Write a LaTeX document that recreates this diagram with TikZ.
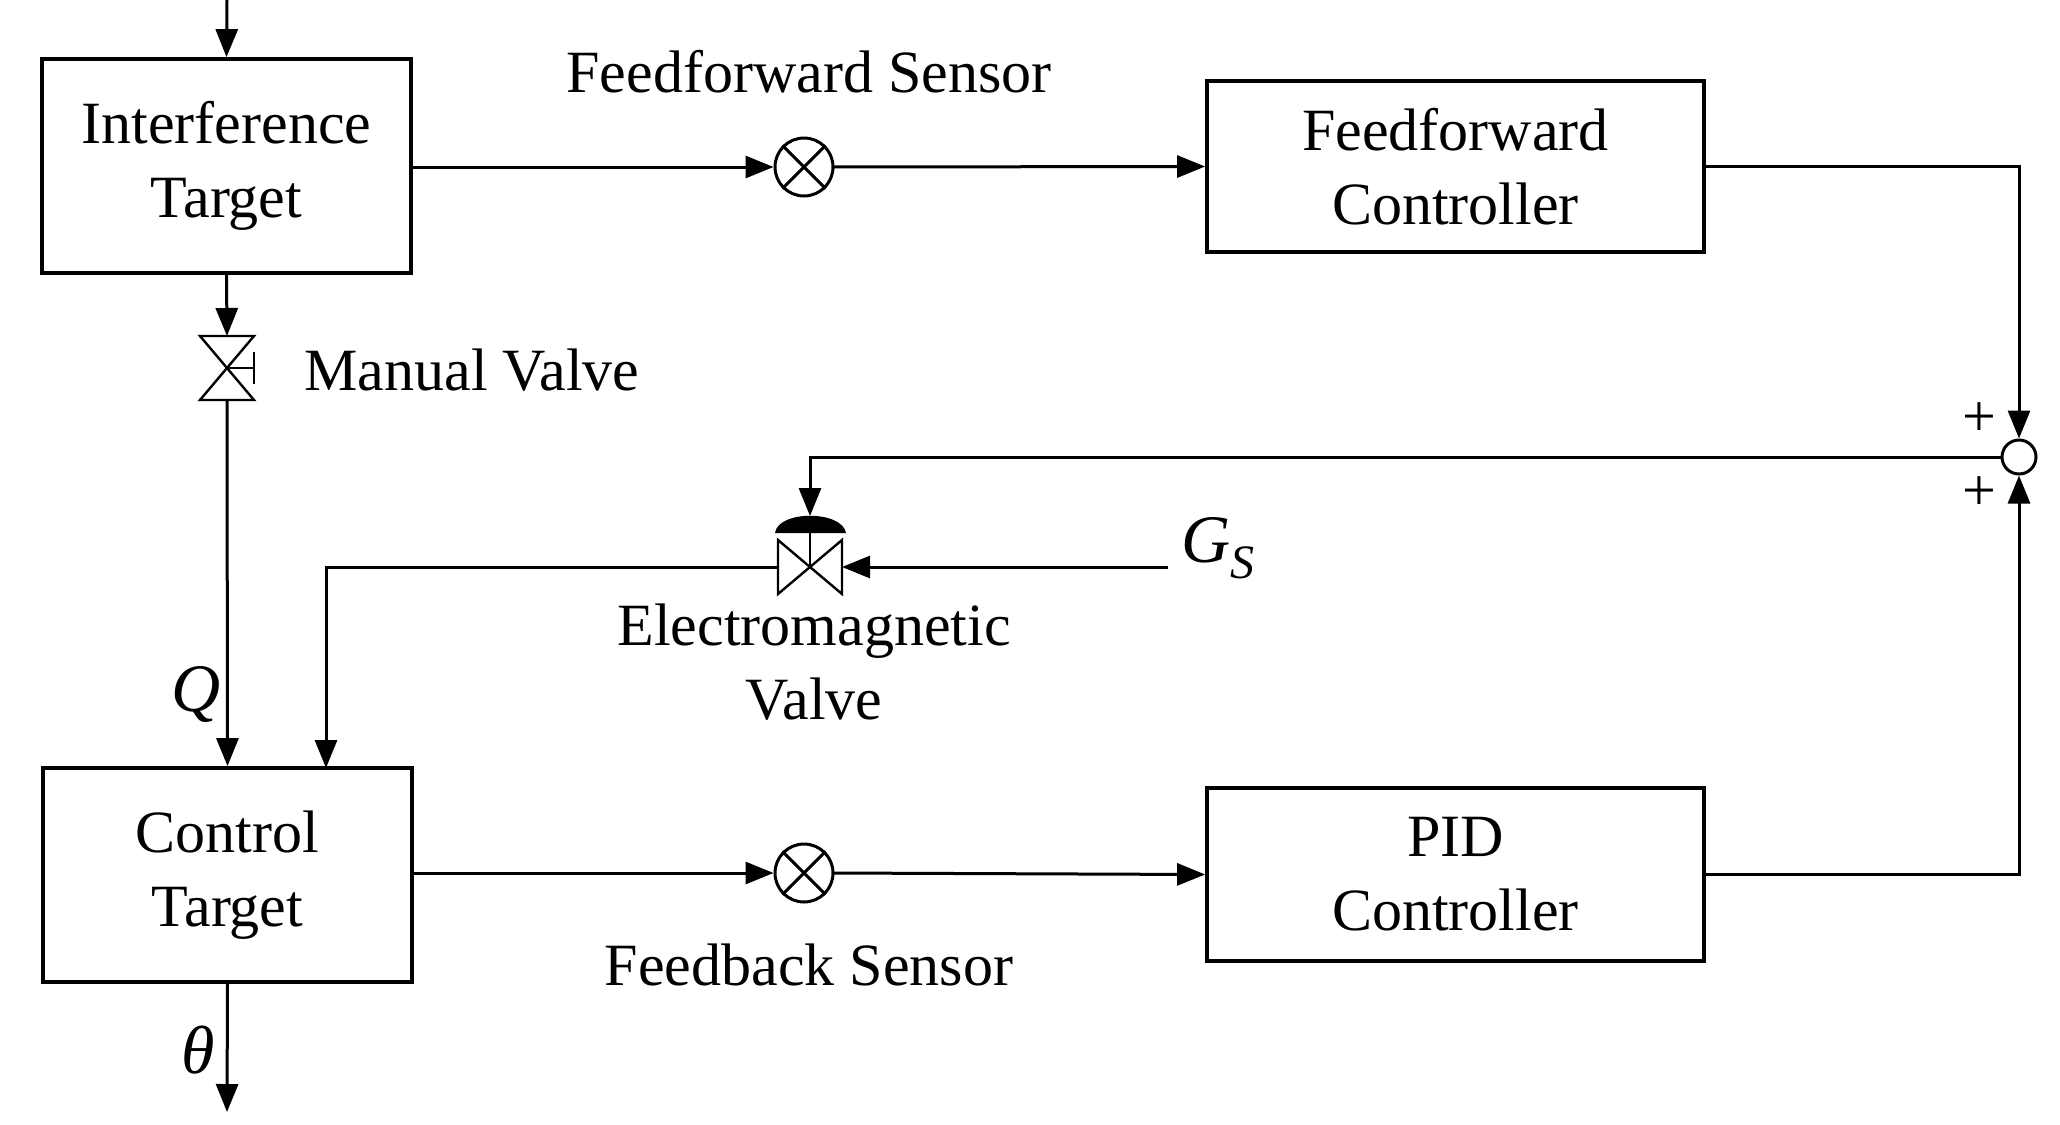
\documentclass[tikz,border=0pt]{standalone}
\usepackage{fontspec}
\setmainfont{Liberation Serif}
\usetikzlibrary{arrows.meta}
\begin{document}
\begin{tikzpicture}[x=0.5pt,y=-0.5pt,line width=1.5pt,
 box/.style={draw,line width=1.9pt,inner sep=0pt,align=center,font=\fontsize{30}{37}\selectfont},
 lbl/.style={font=\fontsize{30}{37}\selectfont,inner sep=0pt,align=center},
 arr/.style={-{Triangle[length=14pt,width=11pt]}},
 sens/.style={draw,circle,minimum size=29pt,inner sep=0pt,line width=1.5pt}]
\useasboundingbox (0,0) rectangle (2060,1124);
\node[box,minimum width=184.5pt,minimum height=107pt] (it) at (226.5,166) {Interference\\Target};
\node[box,minimum width=184.5pt,minimum height=107pt] (ct) at (227.5,875) {Control\\Target};
\node[box,minimum width=248.5pt,minimum height=85.5pt] (ff) at (1455.5,166.5) {Feedforward\\Controller};
\node[box,minimum width=248.5pt,minimum height=86.5pt] (pid) at (1455.5,874.5) {PID\\Controller};
\node[sens] (s1) at (804,167) {};
\node[sens] (s2) at (804,873) {};
\foreach \s in {s1,s2}{\draw (\s.north east)--(\s.south west) (\s.north west)--(\s.south east);}
\node[draw,circle,minimum size=17pt,inner sep=0pt] (sum) at (2019,457) {};
% manual valve
\draw[line width=1.2pt] (200,336)--(254,336)--(200,400)--(254,400)--cycle;
\draw[line width=1.2pt] (227,368)--(254,368) (254,352)--(254,384);
\coordinate (mvt) at (227,336); \coordinate (mvb) at (227,400);
% electromagnetic valve
\draw[line width=1.2pt] (778,540)--(778,594)--(842,540)--(842,594)--cycle;
\draw[line width=1.2pt] (810,567)--(810,530);
\fill (775,533) .. controls (778,510) and (842,510) .. (846,533) -- cycle;
\coordinate (evt) at (810,516); \coordinate (evl) at (778,567); \coordinate (evr) at (842,567);
% labels
\node[lbl] at (809,72) {Feedforward Sensor};
\node[lbl] at (809,965) {Feedback Sensor};
\node[lbl,anchor=west] at (303,370) {Manual Valve};
\node[lbl] at (814,662) {Electromagnetic\\Valve};
\node[lbl,font=\fontsize{34}{40}\selectfont,anchor=west] (gs) at (1180,548) {\textit{G}\raisebox{-8pt}{\fontsize{24}{24}\selectfont\textit{S}}};
\node[lbl,font=\fontsize{34}{40}\selectfont] at (196,694) {\textit{Q}};
\node[lbl,font=\fontsize{34}{40}\selectfont] at (198,1050) {\textit{θ}};
\node[lbl] at (1979,420) {+};
\node[lbl] at (1979,494) {+};
\coordinate (top) at (227,0); \coordinate (bot) at (227,1112);
\coordinate (gsl) at (1168,567);
% connectors
\draw[arr] (top)--(it.north);
\draw[arr] (it.south)--(mvt);
\draw[arr] (mvb)--(ct.north);
\draw[arr] (it.east|-s1)--(s1.west);
\draw[arr] (s1)++(0:29) -- (ff.west);
\draw[arr] (ff.east)-|(sum.north);
\draw[arr] (pid.east)-|(sum.south);
\draw[arr] (ct.east|-s2)--(s2.west);
\draw[arr] (s2)++(0:29) -- (pid.west);
\draw[arr] (sum.west)-|(evt);
\draw[arr] (gsl) -- (evr);
\draw[arr] (evl)-|(326,768);
\draw[arr] (ct.south)--(bot);
\end{tikzpicture}
\end{document}
